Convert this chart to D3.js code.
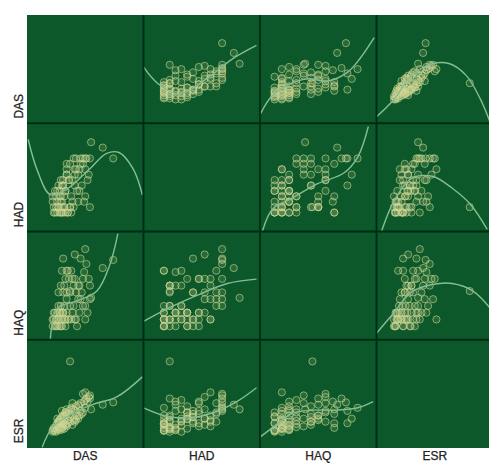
<!DOCTYPE html>
<html>
<head>
<meta charset="utf-8">
<script src="https://cdn.jsdelivr.net/npm/d3@7"></script>
<style>
  html, body { margin: 0; padding: 0; background: #fff; overflow: hidden; }
  svg { display: block; }
  text { font-family: "Liberation Sans", Arial, sans-serif; font-size: 12px; fill: #222; stroke: #222; stroke-width: 0.25px; }
</style>
</head>
<body>
<div id="chart"></div>
<script>
// Variables of the matrix, in panel order
const variables = ["DAS", "HAD", "HAQ", "ESR"];

const DAS = [7.4,6.5,5.5,3.7,5.0,3.1,4.1,4.6,3.4,5.1,
  2.7,3.0,3.3,3.2,2.9,3.5,3.8,4.1,4.4,4.7,5.3,4.9,3.6,4.0,3.4,4.2,4.5,3.7,5.4,4.8,3.1,3.9,
  3.6,3.9,4.2,4.5,4.8,5.2,5.0,4.0,4.4,3.7,4.6,5.0,4.1,3.4,3.8,4.3,5.4,
  2.2,2.3,2.4,2.5,2.4,2.6,2.6,2.7,2.7,2.8,2.8,2.9,2.9,3.0,3.0,3.1,3.1,3.2,3.2,3.3,3.3,3.4,2.5,2.6,2.3,2.8,3.0,2.2,3.5,2.9];
const HAD = [2.2,2.6,2.8,0.4,2.2,1.2,1.6,2.2,2.0,2.2,
  0.4,0.2,1.0,0.4,0.8,0.2,0.8,1.8,0.6,1.2,1.6,0.6,1.4,0.4,1.6,2.2,1.8,2.0,0.4,2.2,1.2,1.4,
  1.4,0.6,1.8,1.0,2.0,1.4,0.8,2.2,1.6,0.4,2.0,1.8,1.2,1.8,0.2,1.0,2.2,
  0.6,0.4,0.2,0.8,1.0,0.2,0.6,1.2,0.4,0.2,1.0,0.6,0.2,1.2,0.4,1.4,0.2,0.8,0.4,1.0,0.2,1.6,0.4,1.0,0.2,0.8,0.6,0.8,0.2,1.4];
const HAQ = [2.45,2.15,1.05,1.3,2.85,2.5,2.65,2.5,2.05,2.3,
  1.25,2.05,1.75,1.5,1.5,2.05,2.05,1.75,1.5,1.25,1.75,2.0,1.75,1.5,1.25,1.25,1.5,1.25,1.5,1.75,1.25,1.75,
  0.25,0.5,0.25,0.5,0.75,0.5,0.75,0.75,1.0,0.75,1.0,0.25,0.25,1.0,0.25,0.0,1.0,
  0.0,0.25,0.0,0.25,0.5,0.0,0.5,0.25,0.75,0.0,0.5,0.25,0.75,0.0,0.25,0.5,0.5,0.75,0.25,0.0,0.25,0.5,0.0,0.25,0.5,0.5,0.5,0.25,0.25,0.0];
const ESR = [39,36,30,92,32,12,18,28,24,44,
  14,6,26,22,18,12,30,14,36,24,46,40,28,16,10,34,22,14,44,50,20,38,
  24,10,16,34,26,40,42,30,18,20,38,52,28,8,32,21,48,
  3,6,2,9,5,12,4,14,7,3,17,6,11,20,4,8,22,15,5,26,10,30,1,18,3,14,28,1,16,12];

const observations = DAS.map((d, i) => ({DAS: d, HAD: HAD[i], HAQ: HAQ[i], ESR: ESR[i]}));

// Smooth curves, named y_x
const DAS_HAD = {x: [-0.5,-0.02,0.74,1.66,2.58,3.38], y: [5.2,3.7,2.7,4.1,6.0,7.2]};
const DAS_HAQ = {x: [-0.5,-0.1,0.42,1.14,1.82,2.5,2.94,3.42], y: [0.8,2.5,3.5,4.1,3.9,4.7,6.0,7.9]};
const DAS_ESR = {x: [-20,1,22,47,68,88,105,117], y: [0.6,2.2,4.4,5.5,5.5,4.4,2.2,0]};
const HAD_DAS = {x: [0.1,0.9,2,3.4,5.4,6.8,7.9,9.1,9.9], y: [2.9,1.74,0.86,1.06,1.82,2.38,2.42,1.82,0.86]};
const HAD_HAQ = {x: [-0.42,-0.06,0.62,1.46,2.38,2.86,3.22], y: [-0.5,0.34,0.74,1.26,1.66,2.26,3.38]};
const HAD_ESR = {x: [-14,1,22,47,71,93,113], y: [-0.5,0.62,1.46,1.54,1.1,0.5,-0.42]};
const HAQ_DAS = {x: [2,2.6,4.3,6,7.1,7.8], y: [-0.5,0.66,0.94,1.3,2.26,3.42]};
const HAQ_HAD = {x: [-0.5,0.5,1.42,2.38,3.38], y: [0.18,0.74,1.18,1.58,1.74]};
const HAQ_ESR = {x: [-20,1,22,47,71,96,119], y: [-0.26,0.5,1.26,1.54,1.58,1.3,0.58]};
const ESR_DAS = {x: [1.3,2.2,3.7,5.6,7.7,9.9], y: [-19,7,23,36,46,72]};
const ESR_HAD = {x: [-0.5,0.3,0.98,1.86,2.7,3.38], y: [32,21,19,25,40,58]};
const ESR_HAQ = {x: [-0.5,0.02,0.62,1.34,2.14,2.86,3.38], y: [-6,9,25,29,29,32,40]};
const curves = {DAS_HAD, DAS_HAQ, DAS_ESR, HAD_DAS, HAD_HAQ, HAD_ESR, HAQ_DAS, HAQ_HAD, HAQ_ESR, ESR_DAS, ESR_HAD, ESR_HAQ};

// Value range shown in every panel, per variable
const domains = {DAS: [0, 10], HAD: [-0.5, 3.5], HAQ: [-0.5, 3.5], ESR: [-20, 120]};

const width = 489, height = 463;
// right margin is negative, the last column runs off the picture
const margin = {top: 15, right: -4, bottom: 15, left: 27};

const column = d3.scaleBand().domain(variables).range([margin.left, width - margin.right]);
const row = d3.scaleBand().domain(variables).range([margin.top, height - margin.bottom]);

const svg = d3.select("#chart").append("svg").attr("width", width).attr("height", height);

// Softening, the original is a low resolution picture
svg.append("defs").append("filter").attr("id", "soft")
  .append("feGaussianBlur").attr("stdDeviation", 0.6);

const plot = svg.append("g").attr("filter", "url(#soft)");

plot.append("rect")
  .attr("x", margin.left).attr("y", margin.top)
  .attr("width", width - margin.left - margin.right)
  .attr("height", height - margin.top - margin.bottom)
  .attr("fill", "#0a592b");

variables.forEach(yVar => {
  variables.forEach(xVar => {
    if (xVar === yVar) return;

    const x = d3.scaleLinear().domain(domains[xVar]).range([0, column.bandwidth()]);
    const y = d3.scaleLinear().domain(domains[yVar]).range([row.bandwidth(), 0]);

    const cell = plot.append("g")
      .attr("transform", `translate(${column(xVar)},${row(yVar)})`);

    cell.selectAll("circle")
      .data(observations)
      .enter()
      .append("circle")
      .attr("cx", d => x(d[xVar]))
      .attr("cy", d => y(d[yVar]))
      .attr("r", 3.6)
      .attr("fill", "#f4e6a8")
      .attr("fill-opacity", 0.12)
      .attr("stroke", "#c6d48f")
      .attr("stroke-opacity", 0.62)
      .attr("stroke-width", 1);

    const c = curves[`${yVar}_${xVar}`];
    const line = d3.line()
      .x(i => x(c.x[i]))
      .y(i => y(c.y[i]))
      .curve(d3.curveCatmullRom);

    cell.append("path")
      .attr("d", line(d3.range(c.x.length)))
      .attr("fill", "none")
      .attr("stroke", "#86bd93")
      .attr("stroke-width", 1.4);
  });
});

// Panel dividers
plot.selectAll("line.v")
  .data(variables.slice(1))
  .enter().append("line")
  .attr("x1", d => column(d)).attr("x2", d => column(d))
  .attr("y1", margin.top).attr("y2", height - margin.bottom)
  .attr("stroke", "#022c15").attr("stroke-width", 1.8);

plot.selectAll("line.h")
  .data(variables.slice(1))
  .enter().append("line")
  .attr("x1", margin.left).attr("x2", width)
  .attr("y1", d => row(d)).attr("y2", d => row(d))
  .attr("stroke", "#022c15").attr("stroke-width", 1.8);

// Column labels under the matrix
svg.selectAll("text.col")
  .data(variables)
  .enter().append("text")
  .attr("class", "col")
  .attr("x", d => column(d) + column.bandwidth() / 2)
  .attr("y", height - 3)
  .attr("text-anchor", "middle")
  .text(d => d);

// Row labels, sitting low in each row
svg.selectAll("text.row")
  .data(variables)
  .enter().append("text")
  .attr("class", "row")
  .attr("transform", d => `translate(23,${row(d) + row.bandwidth() - 17}) rotate(-90)`)
  .attr("text-anchor", "middle")
  .text(d => d);
</script>
</body>
</html>
